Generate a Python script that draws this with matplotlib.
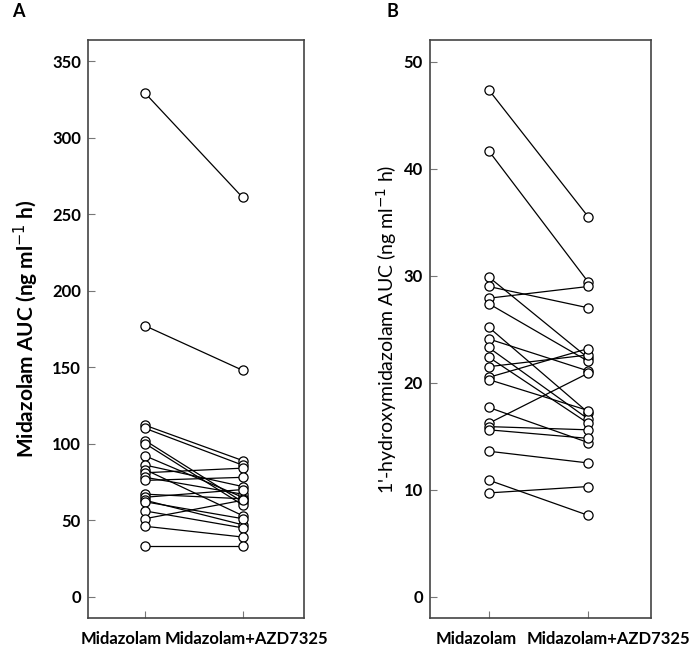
import numpy as np
import matplotlib.pyplot as plt
from matplotlib.transforms import ScaledTranslation

plt.rcParams['font.family'] = ['Lato', 'DejaVu Sans']

conditions = ['Midazolam', 'Midazolam+AZD7325']

# panel A: midazolam AUC, one pair per subject
mdz_alone = [329, 177, 112, 110, 102, 100, 92, 86, 83, 81,
             78, 76, 67, 65, 63, 62, 56, 51, 46, 33]
mdz_azd = [261, 148, 89, 86, 62, 60, 65, 72, 53, 84,
           67, 78, 64, 70, 47, 51, 45, 63, 39, 33]

# panel B: 1'-hydroxymidazolam AUC
ohm_alone = [47.4, 41.7, 29.9, 29.0, 27.9, 27.4, 25.2, 24.1, 23.3, 22.4,
             21.5, 20.5, 20.3, 17.7, 16.2, 15.9, 15.6, 13.6, 10.9, 9.7]
ohm_azd = [35.5, 29.4, 22.3, 27.0, 29.0, 22.0, 17.2, 21.1, 16.6, 16.2,
           22.6, 23.2, 17.4, 14.4, 20.9, 15.6, 14.8, 12.5, 7.6, 10.3]

fig = plt.figure(figsize=(6.92, 6.52), dpi=100)
axA = fig.add_axes([0.127, 0.052, 0.312, 0.887])
axB = fig.add_axes([0.621, 0.052, 0.320, 0.887])

def panel(ax, before, after, ylim, yticks, ylabel, lab_weight, lab_size,
          lab_pad, shifts):
    x = [1, 2]
    for b, a in zip(before, after):
        ax.plot(x, [b, a], color='black', lw=0.9, marker='o', ms=6.6,
                mfc='white', mec='black', mew=0.9)
    ax.set_xlim(0.41, 2.63)
    ax.set_ylim(*ylim)
    ax.set_yticks(yticks)
    ax.set_xticks(x)
    ax.set_xticklabels(conditions, fontsize=10.2, fontweight='bold')
    ax.tick_params(axis='both', direction='in', length=5, color='#777777',
                   labelsize=12, pad=5)
    ax.tick_params(axis='x', pad=9)
    for lab in ax.get_yticklabels():
        lab.set_fontweight('bold')
    # labels sit off-centre in the original
    for lab, dx in zip(ax.get_xticklabels(), shifts):
        lab.set_transform(lab.get_transform() +
                          ScaledTranslation(dx / 100, 0, fig.dpi_scale_trans))
    for sp in ax.spines.values():
        sp.set_color('#444444')
        sp.set_linewidth(1.2)
    ax.set_ylabel(ylabel, fontsize=lab_size, fontweight=lab_weight,
                  labelpad=lab_pad)

panel(axA, mdz_alone, mdz_azd, (-14, 364), np.arange(0, 351, 50),
      r'Midazolam AUC (ng ml$^{-1}$ h)', 'bold', 15, 8, [-24, 4])
panel(axB, ohm_alone, ohm_azd, (-2, 52.06), np.arange(0, 51, 10),
      r"1'-hydroxymidazolam AUC (ng ml$^{-1}$ h)", 'normal', 14, 3, [-12, 20])

fig.text(12 / 692, 1 - 3 / 652, 'A', fontsize=13, fontweight='bold', va='top')
fig.text(386 / 692, 1 - 3 / 652, 'B', fontsize=13, fontweight='bold', va='top')

fig.savefig('out.png', dpi=100)
